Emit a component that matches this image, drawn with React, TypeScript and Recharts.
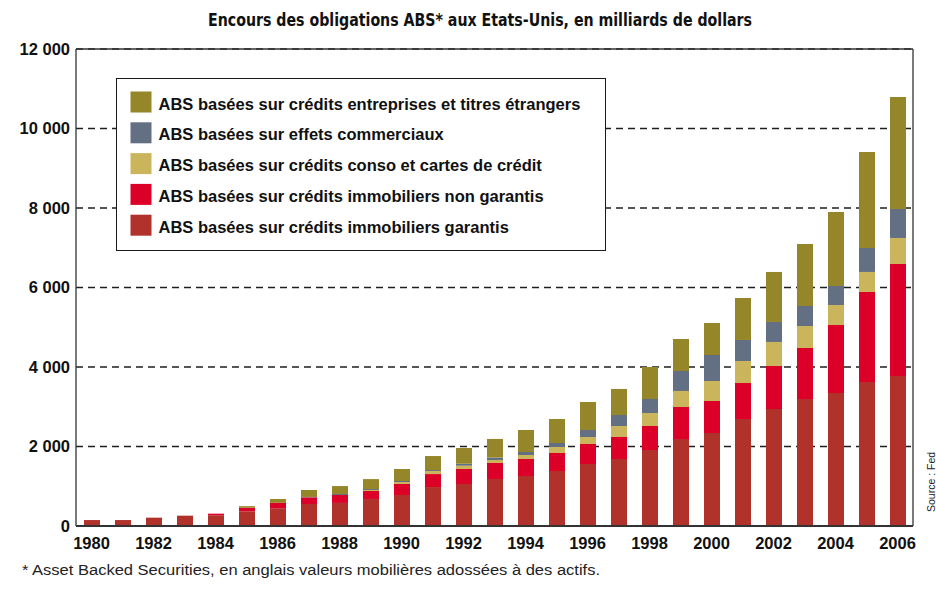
import React from 'react';
import { BarChart, Bar, XAxis, YAxis, CartesianGrid, ReferenceLine, Legend } from 'recharts';

const years = [
  '1980', '1981', '1982', '1983', '1984', '1985', '1986', '1987', '1988', '1989',
  '1990', '1991', '1992', '1993', '1994', '1995', '1996', '1997', '1998', '1999',
  '2000', '2001', '2002', '2003', '2004', '2005', '2006',
];

// ABS basées sur crédits immobiliers garantis
const garantis = [150, 150, 210, 260, 270, 370, 448, 553, 580, 680, 780, 980, 1057, 1182, 1258, 1384, 1560, 1686, 1912, 2189, 2340, 2692, 2944, 3195, 3346, 3623, 3774];
// ABS basées sur crédits immobiliers non garantis
const nonGarantis = [0, 0, 0, 0, 40, 90, 134, 168, 200, 200, 277, 327, 377, 403, 428, 453, 503, 553, 604, 805, 805, 906, 1082, 1283, 1711, 2264, 2818];
// ABS basées sur crédits conso et cartes de crédit
const conso = [0, 0, 0, 0, 0, 0, 0, 0, 0, 25, 50, 76, 83, 75, 100, 151, 176, 277, 327, 403, 503, 553, 604, 554, 503, 504, 654];
// ABS basées sur effets commerciaux
const effets = [0, 0, 0, 0, 0, 0, 0, 10, 25, 25, 25, 25, 50, 60, 76, 100, 176, 277, 352, 503, 654, 529, 503, 503, 478, 604, 730];
// ABS basées sur crédits entreprises et titres étrangers
const entreprises = [0, 0, 0, 0, 0, 40, 97, 175, 200, 250, 302, 352, 395, 470, 553, 604, 705, 655, 805, 805, 805, 1056, 1258, 1560, 1862, 2415, 2818];

const yTicks = [0, 2000, 4000, 6000, 8000, 10000, 12000];

const titleText = 'Encours des obligations ABS* aux Etats-Unis, en milliards de dollars';
const footnoteText = '* Asset Backed Securities, en anglais valeurs mobilières adossées à des actifs.';
const sourceText = 'Source : Fed';

const seriesKeys = ['garantis', 'nonGarantis', 'conso', 'effets', 'entreprises'];
const seriesNames: Record<string, string> = {
  garantis: 'ABS basées sur crédits immobiliers garantis',
  nonGarantis: 'ABS basées sur crédits immobiliers non garantis',
  conso: 'ABS basées sur crédits conso et cartes de crédit',
  effets: 'ABS basées sur effets commerciaux',
  entreprises: 'ABS basées sur crédits entreprises et titres étrangers',
};
const seriesColors: Record<string, string> = {
  garantis: '#B0322B',
  nonGarantis: '#DC0028',
  conso: '#CAB55C',
  effets: '#637083',
  entreprises: '#95862A',
};
const legendOrder = ['entreprises', 'effets', 'conso', 'nonGarantis', 'garantis'];

const data = years.map((year, i) => ({
  year,
  garantis: garantis[i],
  nonGarantis: nonGarantis[i],
  conso: conso[i],
  effets: effets[i],
  entreprises: entreprises[i],
}));

const fmt = (v: number) => {
  if (v === 0) return '0';
  const th = Math.floor(v / 1000);
  const rest = String(v % 1000).padStart(3, '0');
  return `${th} ${rest}`;
};

const FONT = '"Liberation Sans", Arial, sans-serif';

const renderLegend = (props: any) => {
  const payload: any[] = props.payload || [];
  const items = legendOrder.map((k) => {
    const p = payload.find((e) => e.dataKey === k);
    return { key: k, value: p ? p.value : seriesNames[k], color: (p && p.color) || seriesColors[k] };
  });
  return (
    <svg width={487} height={170} style={{ display: 'block' }}>
      {items.map((it, i) => (
        <g key={it.key}>
          <rect x={13.5} y={12.5 + i * 30.8} width={21} height={21} fill={it.color} />
          <text
            x={41.5}
            y={30.5 + i * 30.8}
            fontFamily={FONT}
            fontWeight="bold"
            fontSize={16.5}
            fill="#111"
          >
            {it.value}
          </text>
        </g>
      ))}
    </svg>
  );
};

export default function App() {
  return (
    <div style={{ position: 'absolute', left: 0, top: 0, width: 936, height: 593, background: '#fff' }}>
      <BarChart
        width={936}
        height={593}
        data={data}
        margin={{ top: 49, right: 0, bottom: 37, left: 0 }}
        barSize={16}
      >
        <CartesianGrid vertical={false} stroke="#1e1e1e" strokeDasharray="7 5" strokeWidth={1.6} />
        <XAxis
          dataKey="year"
          interval={1}
          tickLine={false}
          tickSize={0}
          tickMargin={11}
          height={30}
          axisLine={{ stroke: '#333', strokeWidth: 2 }}
          tick={{ fontFamily: FONT, fontWeight: 'bold', fontSize: 16.5, fill: '#111' }}
        />
        <YAxis
          domain={[0, 12000]}
          ticks={yTicks}
          width={76}
          tickLine={false}
          tickSize={0}
          tickMargin={6}
          tickFormatter={fmt}
          axisLine={{ stroke: '#333', strokeWidth: 1.3 }}
          tick={{ fontFamily: FONT, fontWeight: 'bold', fontSize: 16.5, fill: '#111' }}
        />
        <YAxis
          yAxisId="r"
          orientation="right"
          domain={[0, 12000]}
          ticks={yTicks}
          width={23}
          tick={false}
          tickLine={false}
          axisLine={{ stroke: '#333', strokeWidth: 1.3 }}
        />
        <ReferenceLine y={12000} stroke="#333" strokeWidth={1.3} />
        {seriesKeys.map((k) => (
          <Bar
            key={k}
            dataKey={k}
            name={seriesNames[k]}
            stackId="a"
            fill={seriesColors[k]}
            isAnimationActive={false}
          />
        ))}
        <Legend
          layout="vertical"
          align="center"
          verticalAlign="middle"
          content={renderLegend}
          wrapperStyle={{
            position: 'absolute',
            left: 116,
            top: 78,
            width: 490,
            height: 173,
            border: '1.5px solid #1a1a1a',
            background: '#fff',
            boxSizing: 'border-box',
            margin: 0,
            padding: 0,
          }}
        />
      </BarChart>
      <svg
        width={936}
        height={593}
        style={{ position: 'absolute', left: 0, top: 0, pointerEvents: 'none' }}
      >
        <text
          x={208}
          y={26}
          fontFamily='"Liberation Sans Narrow", "DejaVu Sans Condensed", Arial, sans-serif'
          fontWeight="bold"
          fontSize={17.5}
          fill="#111"
          textLength={544}
          lengthAdjust="spacingAndGlyphs"
        >
          {titleText}
        </text>
        <text
          x={22}
          y={575}
          fontFamily={FONT}
          fontSize={14}
          fill="#222"
          textLength={578}
          lengthAdjust="spacingAndGlyphs"
        >
          {footnoteText}
        </text>
        <text
          x={935}
          y={512}
          transform="rotate(-90 935 512)"
          fontFamily={FONT}
          fontSize={10.5}
          fill="#222"
        >
          {sourceText}
        </text>
      </svg>
    </div>
  );
}
